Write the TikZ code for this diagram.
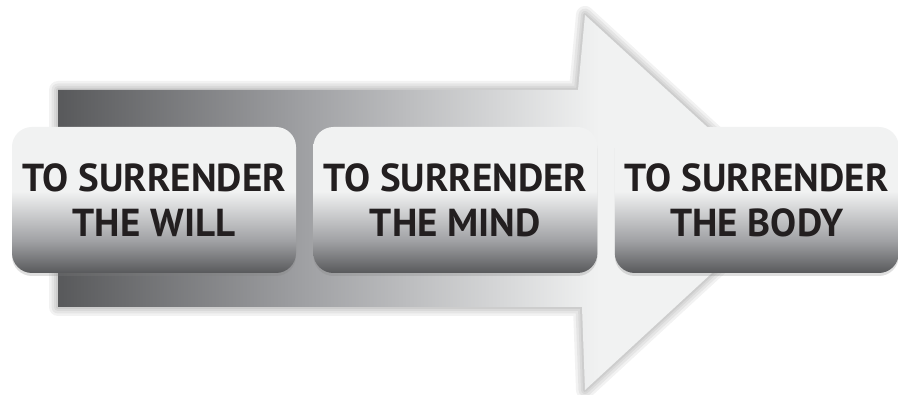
\documentclass[tikz,border=0pt]{standalone}
\usepackage{fontspec}
\newfontfamily\surfont{PT Sans}
\usetikzlibrary{positioning, shadows}
\definecolor{surdark}{RGB}{88, 89, 91}
\definecolor{surmid}{RGB}{160, 161, 164}
\definecolor{surlight}{RGB}{241, 242, 242}
\definecolor{surtext}{RGB}{35, 31, 32}
\pgfdeclarehorizontalshading{shaftshade}{100bp}{color(0bp)=(surdark); color(25bp)=(surdark); color(42bp)=(surmid); color(62bp)=(surlight); color(100bp)=(surlight)}
\pgfdeclareverticalshading{boxshade}{100bp}{color(0bp)=(surdark); color(25bp)=(surdark); color(36bp)=(surmid); color(53bp)=(surlight); color(100bp)=(surlight)}
\tikzset{
  stepbox/.style={shading=boxshade, rounded corners=20pt, minimum width=284pt, minimum height=146pt,
    align=center, text=surtext, font=\surfont\bfseries\fontsize{39}{45}\selectfont,
    drop shadow={opacity=0.25, shadow xshift=0pt, shadow yshift=-3pt}},
  glow/.style={draw=black, opacity=0.05, line join=round}
}

\begin{document}
\begin{tikzpicture}[x=1pt, y=-1pt]
  \fill[white] (0,0) rectangle (898,395);
  \useasboundingbox (0,0) rectangle (898,395);
  % big arrow
  \foreach \w in {18,13,8,4}
    \draw[glow, line width=\w pt] (58,90) -- (578,90) -- (585,15) -- (789,202) -- (585,390) -- (582,307) -- (58,307) -- cycle;
  \shade[shading=shaftshade] (58,90) -- (578,90) -- (585,15) -- (789,202) -- (585,390) -- (582,307) -- (58,307) -- cycle;
  % steps
  \node[stepbox] (will) at (154,200) {TO SURRENDER\\THE WILL};
  \node[stepbox, right=17pt of will] (mind) {TO SURRENDER\\THE MIND};
  \node[stepbox, right=17pt of mind] (body) {TO SURRENDER\\THE BODY};
\end{tikzpicture}
\end{document}
